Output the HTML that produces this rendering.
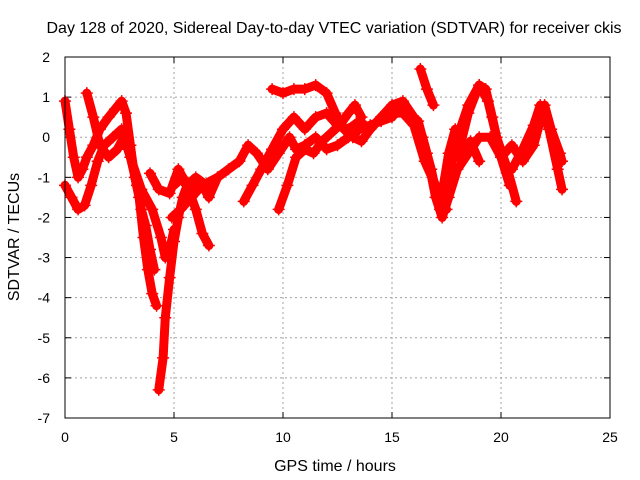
<!DOCTYPE html>
<html><head><meta charset="utf-8"><style>
body{margin:0;background:#fff}
svg{display:block;font-family:"Liberation Sans",sans-serif;font-size:14px}
.big{font-size:16px}
</style></head><body>
<svg id="chart" width="640" height="480">
<text class="big" x="334" y="33" text-anchor="middle">Day 128 of 2020, Sidereal Day-to-day VTEC variation (SDTVAR) for receiver ckis</text>
<text class="big" x="335" y="471" text-anchor="middle">GPS time / hours</text>
<text class="big" transform="translate(19,237) rotate(-90)" text-anchor="middle">SDTVAR / TECUs</text>
<g id="grid"></g><g id="ticks"></g><g id="marks"></g>
<rect x="65" y="57" width="545" height="361" fill="none" stroke="#000"/>
</svg>
<script>
const xTicks=[0,5,10,15,20,25];
const yTicks=[2,1,0,-1,-2,-3,-4,-5,-6,-7];
const t1x=[0,0.2,0.4,0.6,0.8,1.0,1.3,1.6,2.0,2.3,2.6,2.8,3.0,3.2,3.4,3.6,3.8,4.0,4.2];
const t1y=[0.9,0.2,-0.5,-1,-0.8,-0.5,-0.2,0.2,0.5,0.7,0.9,0.6,-0.2,-1,-1.5,-2.5,-3.3,-3.9,-4.2];
const t2x=[0,0.3,0.6,0.9,1.2,1.5,1.8,2.2,2.6,2.8,3.0,3.3,3.5,3.7,3.9,4.1];
const t2y=[-1.2,-1.5,-1.8,-1.7,-1.2,-0.6,-0.2,0,0.2,0,-0.5,-1.2,-1.8,-2.2,-2.8,-3.3];
const t3x=[1,1.3,1.6,2,2.4,2.7,3,3.5,4,4.4,4.6,4.8,5];
const t3y=[1.1,0.5,-0.2,-0.5,-0.3,0,-0.5,-1.3,-1.8,-2.5,-3,-2.8,-2.3];
const t4x=[4.3,4.5,4.6,4.8,5,5.2,5.4,5.6,6,6.5];
const t4y=[-6.3,-5.5,-4.5,-3.5,-2.6,-2,-1.5,-1.2,-1,-1.2];
const t5x=[3.9,4.3,4.8,5.2,5.6,6,6.3,6.6];
const t5y=[-0.9,-1.3,-1.4,-0.8,-1.2,-1.8,-2.4,-2.7];
const t6x=[4.9,5.3,5.8,6.3,7,7.5,8,8.4,8.8,9.3,9.8,10.3,10.6,11,11.5,12,12.5,13,13.5,14,14.5,15,15.3,15.7,16.2,16.6,17,17.3,17.6,18,18.5,19,19.5,20,20.5,21,21.5,22,22.3,22.7,22.8];
const t6y=[-2,-1.8,-1.5,-1.2,-1,-0.8,-0.6,-0.2,-0.4,-0.8,-0.4,0,-0.3,-0.2,0,-0.3,-0.2,0,0.2,0.3,0.4,0.5,0.7,0.6,0.4,-0.4,-1.5,-2,-1.5,-0.8,-0.4,0,0,-0.5,-0.2,-0.6,-0.2,0.8,0.2,-0.4,-0.6];
const t7x=[8.2,8.6,9,9.5,10,10.5,11,11.5,12,12.5,13,13.5,14,14.5,15,15.5,16,16.4,16.8,17.2];
const t7y=[-1.6,-1.2,-0.8,-0.3,0.2,0.5,0.2,0.5,0.6,0.3,0.2,0.4,0.2,0.5,0.8,0.9,0.5,0,-0.8,-1.8];
const t8x=[9.5,10,10.5,11,11.5,12,12.4,12.8,13.2,13.6,14,14.5,15,15.5,16,16.5,17,17.5];
const t8y=[1.2,1.1,1.2,1.2,1.3,1.1,0.6,0.2,0,-0.1,0.2,0.5,0.6,0.6,0.3,-0.6,-1.2,-1.8];
const t9x=[9.8,10.2,10.6,11,11.4,11.8,12.2,12.6,13,13.3,13.6];
const t9y=[-1.8,-1.2,-0.5,-0.3,-0.4,-0.1,0.1,0.3,0.6,0.8,0.5];
const t10x=[16.3,16.6,16.9];
const t10y=[1.7,1.2,0.8];
const t11x=[17.5,18,18.5,19,19.4,19.8,20.3,20.7];
const t11y=[-1.2,0,0.8,1.3,0.9,0,-0.8,-1.6];
const t12x=[20.5,21,21.5,21.8,22.2,22.6,22.8];
const t12y=[-0.8,-0.3,0.3,0.8,0.2,-0.8,-1.3];
const t13x=[18,18.5,19,19.3,19.6,20,20.4];
const t13y=[-0.5,0.6,1.3,1.2,0.5,-0.5,-1.2];
const t14x=[5,5.4,5.8,6.2,6.6,7];
const t14y=[-1.2,-1.0,-1.4,-1.1,-1.5,-1.0];
const t15x=[17.3,17.6,17.9,18.2,18.6,19];
const t15y=[-1.4,-0.4,0.2,-0.5,-0.1,-0.6];
const tracks=[[t1x,t1y],[t2x,t2y],[t3x,t3y],[t4x,t4y],[t5x,t5y],[t6x,t6y],[t7x,t7y],[t8x,t8y],[t9x,t9y],[t10x,t10y],[t11x,t11y],[t12x,t12y],[t13x,t13y],[t14x,t14y],[t15x,t15y]];
const NS="http://www.w3.org/2000/svg";
const X=h=>65+h*545/25, Y=v=>57+(2-v)*361/9;
const grid=document.getElementById('grid'),ticks=document.getElementById('ticks'),marks=document.getElementById('marks');
function mk(tag,parent,attrs){const e=document.createElementNS(NS,tag);for(const k in attrs)e.setAttribute(k,attrs[k]);parent.appendChild(e);return e;}
xTicks.forEach(t=>{
  if(t>0&&t<25){const g=mk('line',grid,{x1:X(t),x2:X(t),y1:57,y2:418,stroke:'#a0a0a0','stroke-dasharray':'2,3'});
  
  }
  mk('line',ticks,{x1:X(t),x2:X(t),y1:418,y2:412,stroke:'#000'});
  mk('line',ticks,{x1:X(t),x2:X(t),y1:57,y2:63,stroke:'#000'});
  const l=mk('text',ticks,{x:X(t),y:442,'text-anchor':'middle'});l.textContent=t;
  
  
});
yTicks.forEach(t=>{
  if(t<2&&t>-7){const g=mk('line',grid,{x1:65,x2:610,y1:Y(t),y2:Y(t),stroke:'#a0a0a0','stroke-dasharray':'2,3'});
  
  }
  mk('line',ticks,{x1:65,x2:71,y1:Y(t),y2:Y(t),stroke:'#000'});
  mk('line',ticks,{x1:610,x2:604,y1:Y(t),y2:Y(t),stroke:'#000'});
  const l=mk('text',ticks,{x:50,y:Y(t)+5,'text-anchor':'end'});l.textContent=t;
  
  
});
tracks.forEach(([xs,ys])=>{
  const pts=xs.map((x,i)=>X(x)+','+Y(ys[i])).join(' ');
  const p=mk('polyline',marks,{points:pts,fill:'none',stroke:'#ff0000','stroke-width':9,'stroke-linejoin':'round','stroke-linecap':'round'});
  
  
  xs.forEach((x,i)=>{
    const cx=X(x),cy=Y(ys[i]);
    const m=mk('path',marks,{d:`M${cx-6},${cy}H${cx+6}M${cx},${cy-6}V${cy+6}`,stroke:'#ff0000','stroke-width':1.5});
    
    
  });
});
</script>
</body></html>
